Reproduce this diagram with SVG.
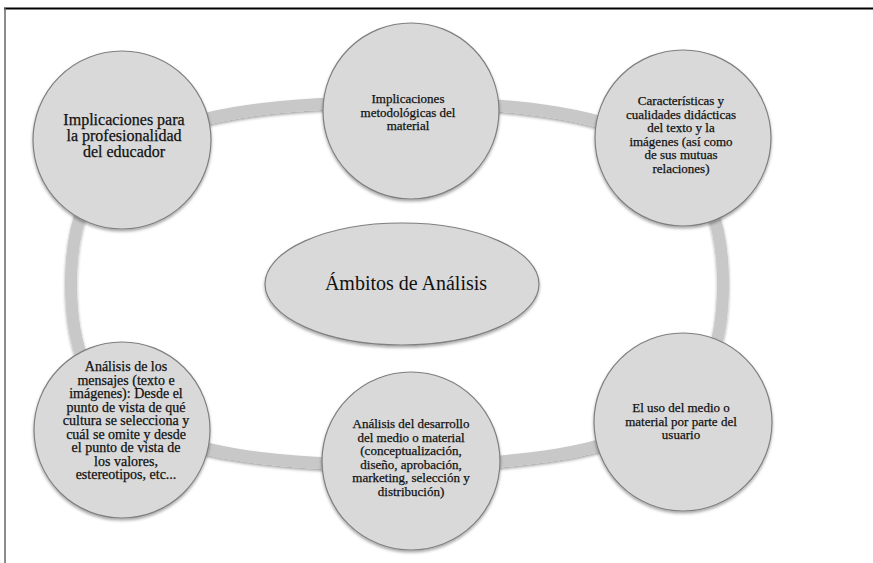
<svg xmlns="http://www.w3.org/2000/svg" width="873" height="563" viewBox="0 0 873 563">
<style>
.bg{fill:#ffffff}
.node{fill:#d9d9d9;stroke:#7f7f7f;stroke-width:1.2}
.ring{fill:none;stroke:#c8c8c8;stroke-width:12}
.t{font-family:"Liberation Serif","Times New Roman",serif;fill:#111;stroke:#111;stroke-width:0.25;text-anchor:middle}
.s13{font-size:13px}
.s14{font-size:14px}
.s16{font-size:16px}
.s20{font-size:20px;stroke-width:0}
</style>
<defs>
<filter id="sh" x="-20%" y="-20%" width="140%" height="140%">
<feDropShadow dx="0" dy="2" stdDeviation="1.5" flood-color="#000" flood-opacity="0.35"/>
</filter>
</defs>
<rect class="bg" x="0" y="0" width="873" height="563"/>
<g id="frame">
<line x1="4" y1="8.5" x2="873" y2="8.5" stroke="#000" stroke-width="2"/>
<line x1="5" y1="8" x2="5" y2="563" stroke="#666" stroke-width="1.5"/>
</g>
<g id="connectors">
<path class="ring" filter="url(#sh)" d="M397,102 C136,102 71,158 71,284 C71,410 136,465 397,465 C658,465 723,410 723,284 C723,158 658,102 397,102 Z"/>
</g>
<g id="center">
<ellipse class="node" filter="url(#sh)" cx="402" cy="284" rx="137" ry="61"/>
<text class="t s20" x="406" y="290">Ámbitos de Análisis</text>
</g>
<g id="n1">
<circle class="node" filter="url(#sh)" cx="122" cy="140" r="89"/>
<text class="t s16"><tspan x="124" y="125">Implicaciones para</tspan><tspan x="124" y="141">la profesionalidad</tspan><tspan x="124" y="157">del educador</tspan></text>
</g>
<g id="n2">
<circle class="node" filter="url(#sh)" cx="411" cy="111" r="88"/>
<text class="t s13"><tspan x="408" y="103">Implicaciones</tspan><tspan x="408" y="116.5">metodológicas del</tspan><tspan x="408" y="130">material</tspan></text>
</g>
<g id="n3">
<circle class="node" filter="url(#sh)" cx="683" cy="138" r="88"/>
<text class="t s13"><tspan x="681" y="105">Características y</tspan><tspan x="681" y="118.5">cualidades didácticas</tspan><tspan x="681" y="132">del texto y la</tspan><tspan x="681" y="145.5">imágenes (así como</tspan><tspan x="681" y="159">de sus mutuas</tspan><tspan x="681" y="172.5">relaciones)</tspan></text>
</g>
<g id="n4">
<circle class="node" filter="url(#sh)" cx="122" cy="430" r="88"/>
<text class="t s14"><tspan x="126" y="371">Análisis de los</tspan><tspan x="126" y="384.5">mensajes (texto e</tspan><tspan x="126" y="398">imágenes): Desde el</tspan><tspan x="126" y="411.5">punto de vista de qué</tspan><tspan x="126" y="425">cultura se selecciona y</tspan><tspan x="126" y="438.5">cuál se omite y desde</tspan><tspan x="126" y="452">el punto de vista de</tspan><tspan x="126" y="465.5">los valores,</tspan><tspan x="126" y="479">estereotipos, etc...</tspan></text>
</g>
<g id="n5">
<circle class="node" filter="url(#sh)" cx="411" cy="461" r="89"/>
<text class="t s13"><tspan x="411" y="428">Análisis del desarrollo</tspan><tspan x="411" y="441.5">del medio o material</tspan><tspan x="411" y="455">(conceptualización,</tspan><tspan x="411" y="468.5">diseño, aprobación,</tspan><tspan x="411" y="482">marketing, selección y</tspan><tspan x="411" y="495.5">distribución)</tspan></text>
</g>
<g id="n6">
<circle class="node" filter="url(#sh)" cx="683" cy="422" r="89"/>
<text class="t s13"><tspan x="681" y="412">El uso del medio o</tspan><tspan x="681" y="425.5">material  por parte del</tspan><tspan x="681" y="439">usuario</tspan></text>
</g>
</svg>
